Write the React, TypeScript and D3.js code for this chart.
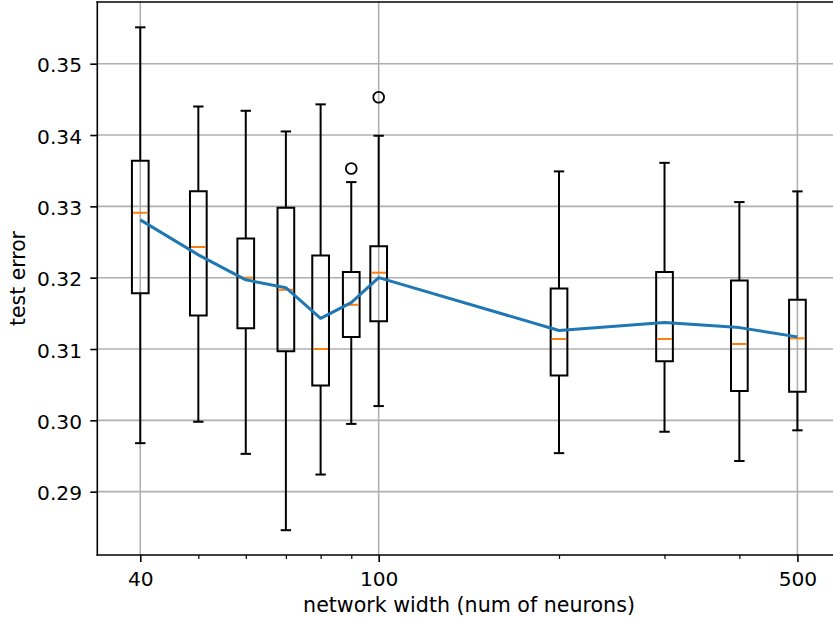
import React, { useEffect, useRef } from "react";
import * as d3 from "d3";

const width = 833;
const height = 617;

// network widths and box statistics
const widths = [40, 50, 60, 70, 80, 90, 100, 200, 300, 400, 500];
const whiskerHigh = [0.3551, 0.344, 0.3434, 0.3405, 0.3443, 0.3334, 0.3399, 0.3349, 0.3361, 0.3306, 0.3321];
const q3 = [0.3364, 0.3321, 0.3255, 0.3298, 0.3231, 0.3208, 0.3244, 0.3185, 0.3208, 0.3196, 0.3169];
const medians = [0.3291, 0.3243, 0.32, 0.3183, 0.31, 0.3162, 0.3207, 0.3114, 0.3114, 0.3107, 0.3115];
const q1 = [0.3178, 0.3147, 0.3129, 0.3097, 0.3049, 0.3117, 0.3139, 0.3063, 0.3083, 0.3041, 0.304];
const whiskerLow = [0.2968, 0.2998, 0.2953, 0.2846, 0.2924, 0.2995, 0.302, 0.2954, 0.2984, 0.2943, 0.2986];
const means = [0.3281, 0.3232, 0.3197, 0.3186, 0.3143, 0.3165, 0.32, 0.3126, 0.3137, 0.313, 0.3117];
const outlierWidths = [90, 100];
const outlierValues = [0.3353, 0.3453];

const xMajorTicks = [40, 100, 500];
const xMinorTicks = [50, 60, 70, 80, 90, 200, 300, 400];
const yTicks = [0.29, 0.3, 0.31, 0.32, 0.33, 0.34, 0.35];

const font = "DejaVu Sans";

const App = () => {
  const svgRef = useRef(null);

  useEffect(() => {
    const margin = { top: 2, left: 97.3, right: 840, bottom: 555 };

    const svg = d3.select(svgRef.current);
    svg.selectAll("*").remove();

    const x = d3.scaleLog().domain([33.91, 588.9]).range([margin.left, margin.right]);
    const y = d3.scaleLinear().domain([0.28112, 0.35865]).range([margin.bottom, margin.top]);

    svg.append("rect").attr("width", width).attr("height", height).attr("fill", "white");

    // gridlines
    const grid = svg.append("g").attr("stroke", "#b0b0b0").attr("stroke-width", 1.6);
    grid
      .selectAll(".vgrid")
      .data(xMajorTicks)
      .enter()
      .append("line")
      .attr("x1", (d) => x(d))
      .attr("x2", (d) => x(d))
      .attr("y1", margin.top)
      .attr("y2", margin.bottom);
    grid
      .selectAll(".hgrid")
      .data(yTicks)
      .enter()
      .append("line")
      .attr("x1", margin.left)
      .attr("x2", margin.right)
      .attr("y1", (d) => y(d))
      .attr("y2", (d) => y(d));

    // box plots
    const halfBox = 8.35;
    const halfCap = 4.2;
    const boxes = widths.map((w, i) => ({
      w,
      hi: whiskerHigh[i],
      q3: q3[i],
      med: medians[i],
      q1: q1[i],
      lo: whiskerLow[i],
    }));

    const b = svg
      .selectAll(".box")
      .data(boxes)
      .enter()
      .append("g")
      .attr("class", "box")
      .attr("transform", (d) => `translate(${x(d.w)},0)`);

    b.append("path")
      .attr("d", (d) => `M${-halfBox},${y(d.q1)}H${halfBox}V${y(d.q3)}H${-halfBox}Z`)
      .attr("fill", "none")
      .attr("stroke", "black")
      .attr("stroke-width", 2);

    b.append("line")
      .attr("y1", (d) => y(d.q3))
      .attr("y2", (d) => y(d.hi))
      .attr("stroke", "black")
      .attr("stroke-width", 2);
    b.append("line")
      .attr("y1", (d) => y(d.q1))
      .attr("y2", (d) => y(d.lo))
      .attr("stroke", "black")
      .attr("stroke-width", 2);

    b.append("line")
      .attr("x1", -halfCap)
      .attr("x2", halfCap)
      .attr("y1", (d) => y(d.hi))
      .attr("y2", (d) => y(d.hi))
      .attr("stroke", "black")
      .attr("stroke-width", 2)
      .attr("stroke-linecap", "square");
    b.append("line")
      .attr("x1", -halfCap)
      .attr("x2", halfCap)
      .attr("y1", (d) => y(d.lo))
      .attr("y2", (d) => y(d.lo))
      .attr("stroke", "black")
      .attr("stroke-width", 2)
      .attr("stroke-linecap", "square");

    b.append("line")
      .attr("x1", -halfBox + 1)
      .attr("x2", halfBox - 1)
      .attr("y1", (d) => y(d.med))
      .attr("y2", (d) => y(d.med))
      .attr("stroke", "#ff7f0e")
      .attr("stroke-width", 2);

    // outliers
    svg
      .selectAll(".flier")
      .data(outlierWidths)
      .enter()
      .append("circle")
      .attr("cx", (d) => x(d))
      .attr("cy", (d, i) => y(outlierValues[i]))
      .attr("r", 5.4)
      .attr("fill", "none")
      .attr("stroke", "black")
      .attr("stroke-width", 1.8);

    // mean line
    const line = d3
      .line()
      .x((d, i) => x(widths[i]))
      .y((d) => y(d));
    svg
      .append("path")
      .datum(means)
      .attr("d", line)
      .attr("fill", "none")
      .attr("stroke", "#1f77b4")
      .attr("stroke-width", 3)
      .attr("stroke-linejoin", "round");

    // axes
    const xAxis = d3
      .axisBottom(x)
      .tickValues(xMajorTicks)
      .tickFormat(d3.format("d"))
      .tickSize(7)
      .tickSizeOuter(0)
      .tickPadding(9.3);
    const gx = svg
      .append("g")
      .attr("transform", `translate(0,${margin.bottom})`)
      .call(xAxis);
    gx.select(".domain").remove();

    const xMinor = d3.axisBottom(x).tickValues(xMinorTicks).tickFormat(() => "").tickSize(4).tickSizeOuter(0);
    const gxm = svg
      .append("g")
      .attr("transform", `translate(0,${margin.bottom})`)
      .call(xMinor);
    gxm.select(".domain").remove();
    gxm.selectAll(".tick line").attr("stroke-width", 1.2);

    const yAxis = d3
      .axisLeft(y)
      .tickValues(yTicks)
      .tickFormat(d3.format(".2f"))
      .tickSize(7)
      .tickSizeOuter(0)
      .tickPadding(8.3);
    const gy = svg
      .append("g")
      .attr("transform", `translate(${margin.left},0)`)
      .call(yAxis);
    gy.select(".domain").remove();
    gy.selectAll(".tick text").attr("dy", "0.4em");

    svg
      .selectAll(".tick text")
      .attr("font-family", font)
      .attr("font-size", 20.2)
      .attr("fill", "black");
    svg.selectAll(".tick line").filter(function () {
      return d3.select(this).attr("stroke-width") == null;
    }).attr("stroke-width", 1.6);

    // spines
    const spines = svg.append("g").attr("stroke", "black").attr("stroke-width", 1.6).attr("stroke-linecap", "square");
    spines.append("line").attr("x1", margin.left).attr("x2", margin.left).attr("y1", margin.top).attr("y2", margin.bottom);
    spines.append("line").attr("x1", margin.left).attr("x2", margin.right).attr("y1", margin.bottom).attr("y2", margin.bottom);
    spines.append("line").attr("x1", margin.left).attr("x2", margin.right).attr("y1", margin.top).attr("y2", margin.top);
    spines.append("line").attr("x1", margin.right).attr("x2", margin.right).attr("y1", margin.top).attr("y2", margin.bottom);

    // labels
    svg
      .append("text")
      .attr("x", 469)
      .attr("y", 612)
      .attr("text-anchor", "middle")
      .attr("font-family", font)
      .attr("font-size", 20.6)
      .text("network width (num of neurons)");

    svg
      .append("text")
      .attr("transform", `translate(24.5,${(margin.top + margin.bottom) / 2}) rotate(-90)`)
      .attr("text-anchor", "middle")
      .attr("font-family", font)
      .attr("font-size", 20.4)
      .text("test error");
  }, []);

  return (
    <svg
      ref={svgRef}
      width={width}
      height={height}
      style={{ position: "absolute", left: 0, top: 0, display: "block" }}
    ></svg>
  );
};

export default App;
